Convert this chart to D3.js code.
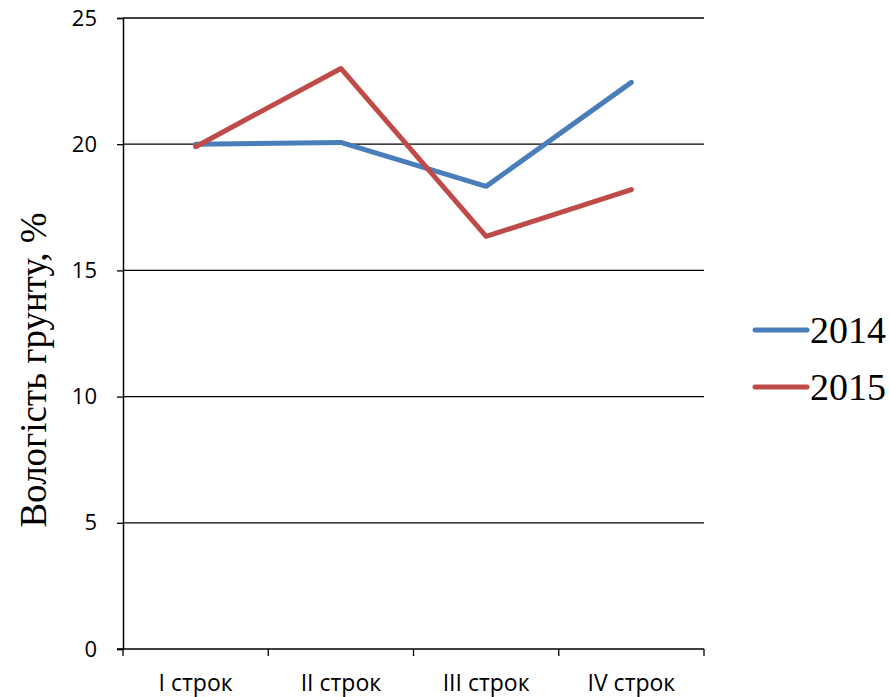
<!DOCTYPE html>
<html>
<head>
<meta charset="utf-8">
<script src="https://cdn.jsdelivr.net/npm/d3@7/dist/d3.min.js"></script>
<style>
  html, body { margin: 0; padding: 0; background: #fff; }
  svg { display: block; }
</style>
</head>
<body>
<svg id="chart" width="890" height="697"></svg>
<script>
// Soil moisture by sampling term, two seasons
const categories = ["I строк", "II строк", "III строк", "IV строк"];
const years = ["2014", "2015"];
const values2014 = [20.0, 20.07, 18.33, 22.45];
const values2015 = [19.9, 23.0, 16.35, 18.2];
const yTicks = [0, 5, 10, 15, 20, 25];
const colors = ["#4A7EBB", "#BE4B48"];

const series = [
  { name: years[0], values: values2014, color: colors[0] },
  { name: years[1], values: values2015, color: colors[1] }
];

const svg = d3.select("#chart");
const plot = { left: 123, right: 704, top: 18, bottom: 649 };

const x = d3.scaleBand().domain(categories).range([plot.left, plot.right]).padding(0);
const y = d3.scaleLinear().domain([0, 25]).range([plot.bottom, plot.top]);

const tickFont = "'Open Sans', sans-serif";
const serifFont = "'Liberation Serif', 'Times New Roman', serif";

// horizontal gridlines
svg.append("g")
  .selectAll("line")
  .data(yTicks.filter(d => d > 0))
  .join("line")
  .attr("x1", plot.left).attr("x2", plot.right)
  .attr("y1", d => y(d)).attr("y2", d => y(d))
  .attr("stroke", "#000").attr("stroke-width", 1.3);

// y axis
const yAxis = svg.append("g")
  .attr("transform", `translate(${plot.left},0)`)
  .call(d3.axisLeft(y).tickValues(yTicks).tickSize(6).tickPadding(20));
yAxis.select(".domain").attr("stroke", "#000").attr("stroke-width", 1.5);
yAxis.selectAll(".tick line").attr("stroke", "#000").attr("stroke-width", 1.3);
yAxis.selectAll("text")
  .attr("font-family", tickFont).attr("font-size", 22).attr("fill", "#000");

// x axis with ticks at band boundaries
const xAxis = svg.append("g")
  .attr("transform", `translate(0,${plot.bottom})`);
xAxis.append("line")
  .attr("x1", plot.left - 6).attr("x2", plot.right)
  .attr("stroke", "#000").attr("stroke-width", 1.5);
const boundaries = categories.map(c => x(c)).concat([x(categories[categories.length - 1]) + x.bandwidth()]);
xAxis.selectAll(".bt")
  .data(boundaries)
  .join("line")
  .attr("class", "bt")
  .attr("x1", d => d).attr("x2", d => d)
  .attr("y1", 0).attr("y2", 7)
  .attr("stroke", "#000").attr("stroke-width", 1.3);
xAxis.selectAll(".lbl")
  .data(categories)
  .join("text")
  .attr("class", "lbl")
  .attr("x", d => x(d) + x.bandwidth() / 2)
  .attr("y", 42)
  .attr("text-anchor", "middle")
  .attr("font-family", tickFont).attr("font-size", 23).attr("fill", "#000")
  .text(d => d);

// y axis title
svg.append("text")
  .attr("transform", `translate(46,${370}) rotate(-90)`)
  .attr("text-anchor", "middle")
  .attr("font-family", serifFont).attr("font-size", 37).attr("fill", "#000")
  .text("Вологість грунту, %");

// series lines
const line = d3.line()
  .x((d, i) => x(categories[i]) + x.bandwidth() / 2)
  .y(d => y(d));

svg.append("g")
  .selectAll("path")
  .data(series)
  .join("path")
  .attr("d", d => line(d.values))
  .attr("fill", "none")
  .attr("stroke", d => d.color)
  .attr("stroke-width", 5)
  .attr("stroke-linejoin", "round")
  .attr("stroke-linecap", "round");

// legend
const legend = svg.append("g")
  .selectAll("g")
  .data(series)
  .join("g")
  .attr("transform", (d, i) => `translate(755,${330 + i * 57})`);
legend.append("line")
  .attr("x1", 0).attr("x2", 52)
  .attr("stroke", d => d.color).attr("stroke-width", 5)
  .attr("stroke-linecap", "round");
legend.append("text")
  .attr("x", 55).attr("y", 13)
  .attr("font-family", serifFont).attr("font-size", 38).attr("fill", "#000")
  .text(d => d.name);
</script>
</body>
</html>
